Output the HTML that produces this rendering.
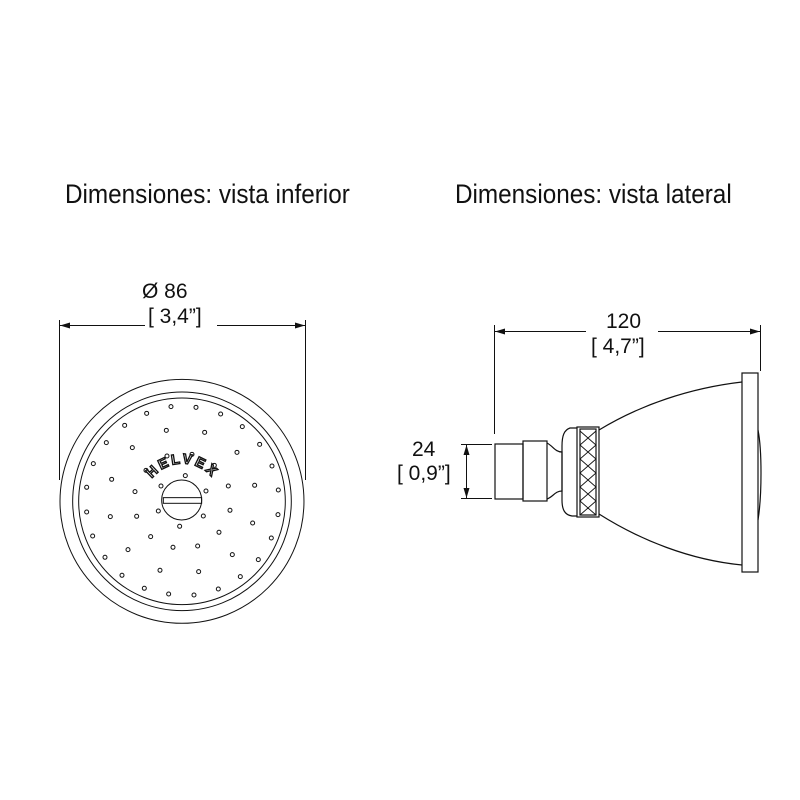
<!DOCTYPE html>
<html><head><meta charset="utf-8"><style>
html,body{margin:0;padding:0;background:#fff;width:800px;height:800px;overflow:hidden}
svg{display:block}
text{font-family:"Liberation Sans",sans-serif;fill:#111}
</style></head><body>
<svg width="800" height="800" viewBox="0 0 800 800" xmlns="http://www.w3.org/2000/svg">
<defs>
<marker id="ar" viewBox="0 0 10 6" refX="10" refY="3" markerWidth="10" markerHeight="6" orient="auto-start-reverse" markerUnits="userSpaceOnUse"><path d="M0,0 L10,3 L0,6 z" fill="#111"/></marker>
</defs>
<text x="65" y="203" font-size="27" transform="translate(65 0) scale(0.9 1) translate(-65 0)">Dimensiones: vista inferior</text>
<text x="455" y="203" font-size="27" transform="translate(455 0) scale(0.9 1) translate(-455 0)">Dimensiones: vista lateral</text>

<g stroke="#111" stroke-width="1" fill="none">
<line x1="59.5" y1="320" x2="59.5" y2="480"/>
<line x1="305.5" y1="320" x2="305.5" y2="480"/>
<line x1="60" y1="325.5" x2="145" y2="325.5" marker-start="url(#ar)"/>
<line x1="217" y1="325.5" x2="305" y2="325.5" marker-end="url(#ar)"/>
</g>
<text x="142" y="298" font-size="21">Ø 86</text>
<text x="148" y="323" font-size="21">[ 3,4”]</text>

<g transform="translate(50 270) scale(0.3333)" stroke="#111" stroke-width="3" fill="none">
<circle cx="396" cy="694" r="366"/>
<circle cx="396" cy="694" r="328"/>
<circle cx="396" cy="694" r="310"/>
<circle cx="395" cy="690" r="60"/>
<rect x="340" y="683" width="115" height="17"/>
<g stroke-width="3">
<circle cx="363" cy="410" r="6"/><circle cx="438" cy="412" r="6"/><circle cx="290" cy="430" r="6"/><circle cx="512" cy="432" r="6"/><circle cx="224" cy="466" r="6"/><circle cx="349" cy="481" r="6"/><circle cx="464" cy="487" r="6"/><circle cx="577" cy="470" r="6"/><circle cx="169" cy="518" r="6"/><circle cx="247" cy="533" r="6"/><circle cx="629" cy="523" r="6"/><circle cx="351" cy="558" r="6"/><circle cx="426" cy="553" r="6"/><circle cx="561" cy="547" r="6"/><circle cx="130" cy="581" r="6"/><circle cx="288" cy="601" r="6"/><circle cx="493" cy="586" r="6"/><circle cx="666" cy="588" r="6"/><circle cx="185" cy="628" r="6"/><circle cx="406" cy="617" r="6"/><circle cx="333" cy="648" r="6"/><circle cx="468" cy="663" r="6"/><circle cx="535" cy="648" r="6"/><circle cx="614" cy="646" r="6"/><circle cx="110" cy="652" r="6"/><circle cx="255" cy="665" r="6"/><circle cx="685" cy="660" r="6"/><circle cx="110" cy="726" r="6"/><circle cx="181" cy="740" r="6"/><circle cx="260" cy="739" r="6"/><circle cx="325" cy="723" r="6"/><circle cx="460" cy="738" r="6"/><circle cx="540" cy="721" r="6"/><circle cx="684" cy="734" r="6"/><circle cx="608" cy="759" r="6"/><circle cx="389" cy="769" r="6"/><circle cx="507" cy="787" r="6"/><circle cx="128" cy="798" r="6"/><circle cx="302" cy="800" r="6"/><circle cx="664" cy="804" r="6"/><circle cx="234" cy="839" r="6"/><circle cx="369" cy="832" r="6"/><circle cx="443" cy="828" r="6"/><circle cx="547" cy="854" r="6"/><circle cx="165" cy="862" r="6"/><circle cx="625" cy="869" r="6"/><circle cx="330" cy="901" r="6"/><circle cx="446" cy="905" r="6"/><circle cx="216" cy="916" r="6"/><circle cx="571" cy="920" r="6"/><circle cx="283" cy="955" r="6"/><circle cx="505" cy="957" r="6"/><circle cx="356" cy="972" r="6"/><circle cx="432" cy="975" r="6"/>
</g>
<path id="hv" d="M290,655 A115,115 0 0 1 505,655" fill="none" stroke="none"/>
<text font-size="42" font-weight="bold" letter-spacing="8" style="fill:#fff;stroke:#111;stroke-width:4"><textPath href="#hv" startOffset="50%" text-anchor="middle">HELVEX</textPath></text>
</g>

<g stroke="#111" stroke-width="1" fill="none">
<line x1="494.5" y1="325" x2="494.5" y2="434"/>
<line x1="760.5" y1="325" x2="760.5" y2="371"/>
<line x1="495" y1="331.5" x2="586" y2="331.5" marker-start="url(#ar)"/>
<line x1="658" y1="331.5" x2="760" y2="331.5" marker-end="url(#ar)"/>
<line x1="461" y1="444.5" x2="492" y2="444.5"/>
<line x1="461" y1="498.5" x2="492" y2="498.5"/>
<line x1="466.5" y1="445" x2="466.5" y2="498" marker-start="url(#ar)" marker-end="url(#ar)"/>
</g>
<text x="606" y="328" font-size="21">120</text>
<text x="591" y="353" font-size="21">[ 4,7”]</text>
<text x="412" y="456" font-size="21">24</text>
<text x="397" y="480" font-size="21">[ 0,9”]</text>

<g stroke="#111" stroke-width="1.2" fill="none">
<rect x="495" y="444" width="28" height="55"/>
<rect x="523" y="441" width="24" height="60"/>
<path d="M547,443 C553,446 555,452 562,452 L562,491 C555,491 553,497 547,499"/>
<path d="M577,428 L570,428 C564,430 562,436 562,446 L562,500 C562,510 565,515 572,516 L577,516"/>
<rect x="577" y="427" width="22" height="90"/>
<rect x="580" y="429" width="16" height="86"/>
<path d="M580,431 L596,445 L580,459 L596,473 L580,487 L596,501 L580,515 M596,431 L580,445 L596,459 L580,473 L596,487 L580,501 L596,515" stroke-width="0.9"/>
<path d="M599,430 C640,405 690,388 742,382"/>
<path d="M599,514 C640,540 690,560 742,565"/>
<rect x="742" y="373" width="16" height="199"/>
<path d="M758,430 C762,450 762,495 758,520"/>
</g>
</svg>
</body></html>
